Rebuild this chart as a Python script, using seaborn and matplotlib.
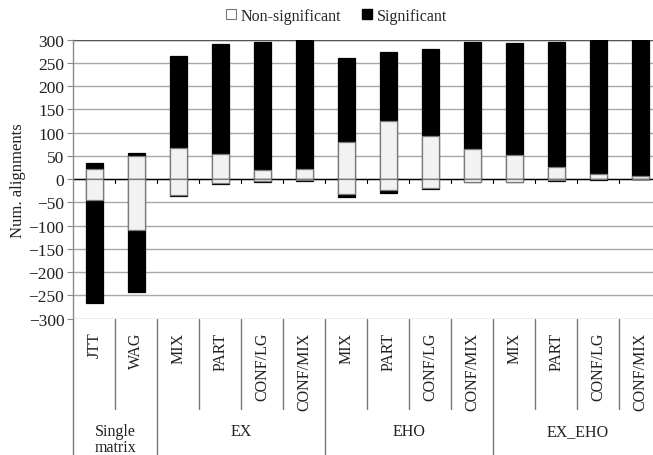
import numpy as np
import pandas as pd
import matplotlib
matplotlib.use("Agg")
import matplotlib.pyplot as plt
from matplotlib.lines import Line2D
import seaborn as sns

# Substitution models, grouped by strategy
models = ["JTT", "WAG",
          "MIX", "PART", "CONF/LG", "CONF/MIX",
          "MIX", "PART", "CONF/LG", "CONF/MIX",
          "MIX", "PART", "CONF/LG", "CONF/MIX"]
groups = ["Single\nmatrix", "EX", "EHO", "EX_EHO"]
group_sizes = [2, 4, 4, 4]

# Alignments where the model is better (positive) / worse (negative)
ns_pos = np.array([22, 50, 68, 54, 20, 23, 80, 126, 93, 64, 53, 27, 11, 6])
sig_pos = np.array([12, 7, 196, 236, 276, 277, 180, 147, 186, 230, 239, 269, 289, 294])
ns_neg = np.array([44, 110, 33, 9, 4, 1, 32, 24, 19, 5, 6, 1, 0, 0])
sig_neg = np.array([223, 133, 4, 2, 3, 2, 7, 5, 3, 1, 1, 3, 2, 0])

n = len(models)
df = pd.DataFrame({
    "slot": np.arange(n),
    "pos_total": ns_pos + sig_pos,
    "pos_ns": ns_pos,
    "neg_total": -(ns_neg + sig_neg),
    "neg_ns": -ns_neg,
})

sns.set_theme(style="white")
plt.rcParams["font.family"] = ["Liberation Serif", "DejaVu Serif"]
plt.rcParams["axes.unicode_minus"] = True

W, H = 653, 456
fig = plt.figure(figsize=(W / 100, H / 100), dpi=100)
ax = fig.add_axes([73.3 / W, 1 - 319.7 / H, 588 / W, 279 / H])

light = "#f2f2f2"
layers = [("pos_total", "black", "black"),
          ("pos_ns", light, "#7a7a7a"),
          ("neg_total", "black", "black"),
          ("neg_ns", light, "#7a7a7a")]
for col, fc, ec in layers:
    sns.barplot(data=df, x="slot", y=col, order=list(range(n)), color=fc,
                saturation=1, width=0.4, edgecolor=ec, linewidth=0.9,
                errorbar=None, ax=ax)

ax.set_xlim(-0.5, n - 0.5)
ax.set_ylim(-300, 300)
ax.set_yticks(range(-300, 301, 50))
ax.set_xticks([])
ax.set_xlabel("")
ax.set_ylabel("Num. alignments", fontsize=12, color="#222222")
ax.yaxis.set_label_coords(-0.08, 0.5)
ax.tick_params(axis="y", labelsize=12.5, length=4, width=0.8, color="#888888",
               pad=2.5, labelcolor="#222222", left=True)

ax.set_axisbelow(True)
ax.yaxis.grid(True, color="#a8a8a8", linewidth=1.0)
for s in ["top", "right", "bottom"]:
    ax.spines[s].set_visible(False)
ax.spines["left"].set_color("#8a8a8a")
ax.spines["left"].set_linewidth(1.0)

ax.axhline(0, color="black", linewidth=1.0, zorder=0.8)
ax.axhline(300, color="#555555", linewidth=1.0, zorder=0.8)

# small ticks on the zero line between categories
for i in range(n - 1):
    ax.plot([i + 0.5, i + 0.5], [0, -9], color="black", lw=0.8,
            zorder=0.8, clip_on=False)

# category table below the plot
group_edges = np.concatenate([[0], np.cumsum(group_sizes)]) - 0.5
for b in np.arange(n + 1) - 0.5:
    bottom = -620 if b in group_edges else -495
    ax.plot([b, b], [-300, bottom], color="#777777", lw=1.0, clip_on=False)

for i, name in enumerate(models):
    ax.text(i, -328, name, rotation=90, ha="center", va="top",
            fontsize=11.5, color="#222222", clip_on=False)

for g, lo, hi in zip(groups, group_edges[:-1], group_edges[1:]):
    ax.text((lo + hi) / 2, -524, g, ha="center", va="top", fontsize=11.5,
            color="#222222", linespacing=1.0, clip_on=False)

handles = [
    Line2D([], [], marker="s", linestyle="none", markersize=7,
           markerfacecolor="white", markeredgecolor="#777777", markeredgewidth=0.8),
    Line2D([], [], marker="s", linestyle="none", markersize=7,
           markerfacecolor="black", markeredgecolor="black"),
]
fig.legend(handles, ["Non-significant", "Significant"], loc="center",
           bbox_to_anchor=(336 / W, 1 - 17 / H), ncol=2, frameon=False,
           fontsize=11.5, handletextpad=0.2, columnspacing=1.2,
           handlelength=0.8)

fig.savefig("out.png", dpi=100)
